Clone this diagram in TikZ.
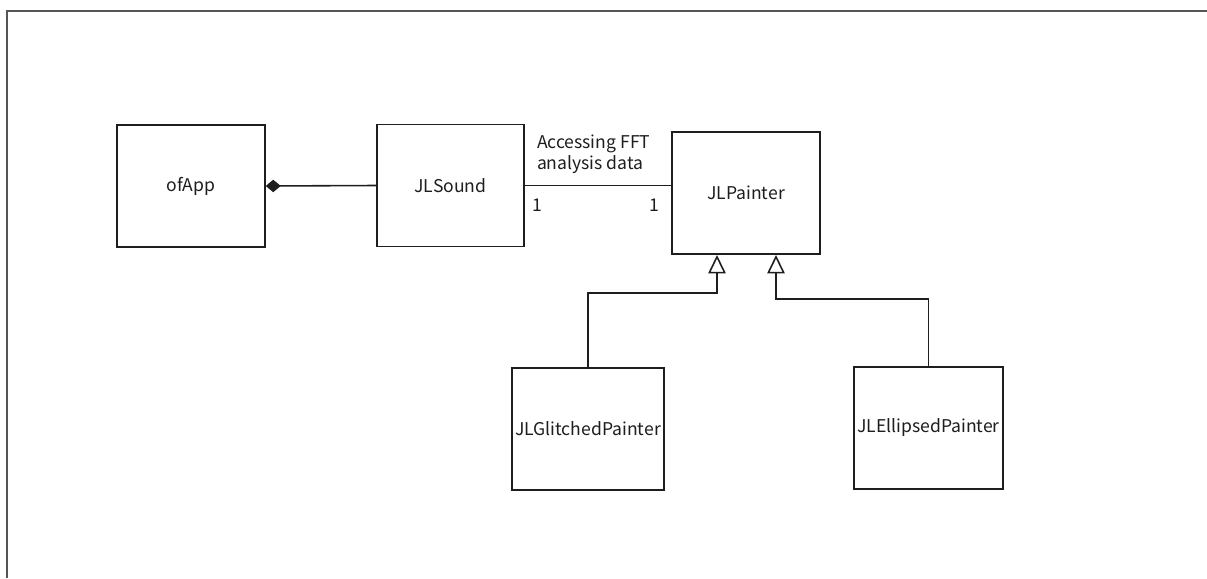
\documentclass[tikz,border=0pt]{standalone}
\usepackage{fontspec}
\setmainfont{Noto Sans CJK KR}
\usetikzlibrary{arrows.meta,positioning,calc}
\definecolor{CdInk}{RGB}{30,30,30}
\definecolor{CdFrame}{RGB}{85,85,85}
\tikzset{
  cd/box/.style={
    draw=CdInk,
    line width=1.1pt,
    fill=white,
    align=center,
    text=CdInk,
    minimum width=2.95cm,
    minimum height=2.44cm,
    inner sep=2pt,
    font=\fontsize{10}{12}\selectfont
  },
  cd/link/.style={draw=CdInk, line width=0.9pt},
  cd/compose/.style={{Diamond[length=0.3cm,width=0.25cm]}-, cd/link},
  cd/inherit/.style={-{Triangle[open,fill=white,length=0.37cm,width=0.35cm]}, cd/link},
  cd/frame/.style={draw=CdFrame, line width=1.4pt},
  cd/label/.style={font=\fontsize{10}{12}\selectfont, text=CdInk, inner sep=0pt}
}
\begin{document}
\begin{tikzpicture}[x=0.2mm,y=-0.2mm]
  \useasboundingbox (0,0) rectangle (1207,578);
  \draw[cd/frame] (7,578) -- (7,11) -- (1207,11);
  % classes
  \node[cd/box] (ofApp) at (191,186) {ofApp};
  \node[cd/box] (JLSound) at (450.5,185.5) {JLSound};
  \node[cd/box] (JLPainter) at (746,193) {JLPainter};
  \node[cd/box] (JLGlitched) at (588,429) {JLGlitchedPainter};
  \node[cd/box] (JLEllipsed) at (928.5,428) {JLEllipsedPainter};
  % relations
  \draw[cd/compose] (ofApp.east) -- (JLSound.west);
  \draw[cd/link] (JLSound.east) -- (JLSound.east -| JLPainter.west)
    node[cd/label, pos=0, anchor=north west, xshift=0.12cm, yshift=-0.26cm] {1}
    node[cd/label, pos=1, anchor=north east, xshift=-0.22cm, yshift=-0.26cm] {1}
    node[cd/label, pos=0, anchor=south west, align=left, xshift=0.22cm, yshift=0.22cm] {Accessing FFT\\analysis data};
  \draw[cd/inherit] (JLGlitched.north) |- ([xshift=-0.58cm,yshift=-0.76cm]JLPainter.south)
    -- ([xshift=-0.58cm]JLPainter.south);
  \draw[cd/inherit] (JLEllipsed.north) |- ([xshift=0.6cm,yshift=-0.88cm]JLPainter.south)
    -- ([xshift=0.6cm]JLPainter.south);
\end{tikzpicture}
\end{document}
